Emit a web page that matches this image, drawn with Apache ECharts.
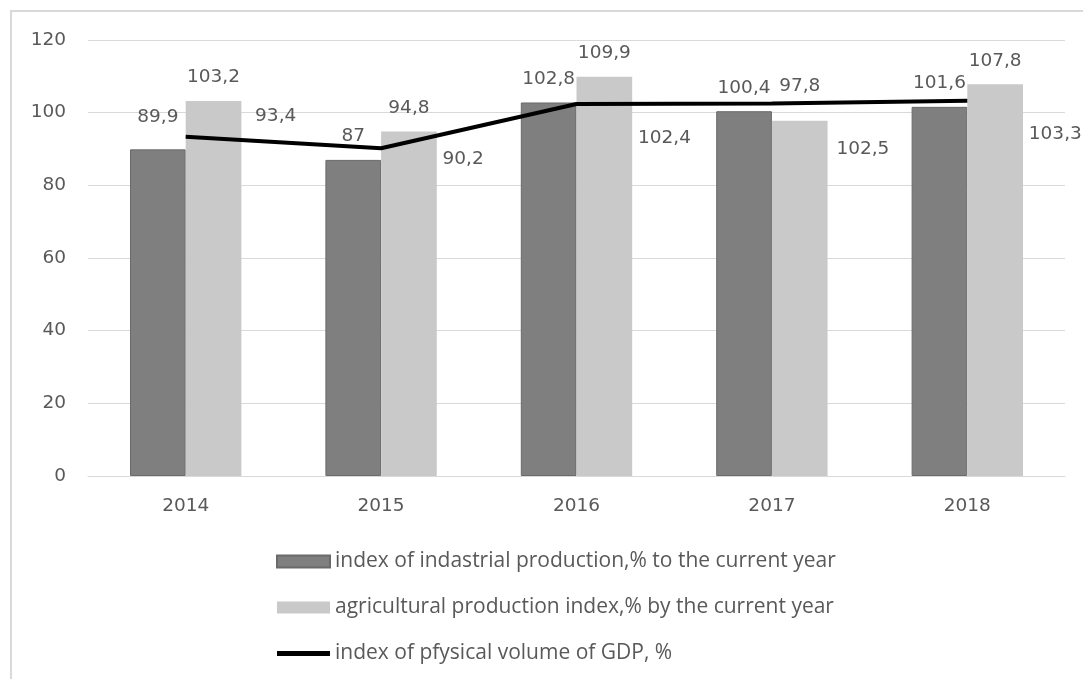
<!DOCTYPE html>
<html>
<head>
<meta charset="utf-8">
<script src="https://cdn.jsdelivr.net/npm/echarts@6/dist/echarts.min.js"></script>
<style>
  html, body { margin: 0; padding: 0; background: #fff; }
  #frame { position: absolute; left: 10px; top: 10px; width: 1100px; height: 700px;
           border-top: 2px solid #d9d9d9; border-left: 2px solid #d9d9d9; }
  #chart { position: absolute; left: 0; top: 0; width: 1083px; height: 679px; }
</style>
</head>
<body>
<div id="frame"></div>
<div id="chart"></div>
<script>
const years = ['2014', '2015', '2016', '2017', '2018'];
const industrial = [89.9, 87, 102.8, 100.4, 101.6];
const agricultural = [103.2, 94.8, 109.9, 97.8, 107.8];
const gdp = [93.4, 90.2, 102.4, 102.5, 103.3];
const yTicks = { min: 0, max: 120, interval: 20 };
const names = [
  'index of indastrial production,% to the current year',
  'agricultural production index,% by the current year',
  'index of pfysical volume of GDP, %'
];

// label layout tweaks (pixel offsets, not data)
const industrialLabelShift = [[0, -9], [0, 0], [0, 0], [0, 0], [0, 0]];
const agriculturalLabelShift = [[0, 0], [0, 0], [0, 0], [0, -11], [0, 0]];
const gdpLabelShift = [[90, -20], [82, 11], [88, 34], [91, 46], [88, 34]];

const fmt = p => String(p.value).replace('.', ',');
const textColor = '#595959';
const numFont = '"DejaVu Sans", sans-serif';
const legendFont = '"Open Sans", "Noto Sans", sans-serif';
const numSize = 18.5;

const chart = echarts.init(document.getElementById('chart'), null, { renderer: 'canvas' });
chart.setOption({
  animation: false,
  textStyle: { fontFamily: numFont },
  grid: { left: 88, right: 18, top: 40, bottom: 203 },
  legend: {
    orient: 'vertical',
    left: 271,
    top: 546,
    padding: 5,
    itemWidth: 53,
    itemHeight: 12,
    itemGap: 25,
    textStyle: { fontSize: 21, color: textColor, fontFamily: legendFont },
    data: [
      { name: names[0], icon: 'rect' },
      { name: names[1], icon: 'rect' },
      { name: names[2], icon: 'path://M0,0 L53,0 L53,5 L0,5 Z' }
    ]
  },
  xAxis: {
    type: 'category',
    data: years,
    axisLine: { show: true, lineStyle: { color: '#d9d9d9', width: 1 } },
    axisTick: { show: false },
    axisLabel: { color: textColor, fontSize: numSize, margin: 21, fontFamily: numFont }
  },
  yAxis: {
    type: 'value',
    min: yTicks.min,
    max: yTicks.max,
    interval: yTicks.interval,
    axisLine: { show: false },
    axisTick: { show: false },
    splitLine: { lineStyle: { color: '#d9d9d9', width: 1 } },
    axisLabel: { color: textColor, fontSize: numSize, margin: 22, fontFamily: numFont }
  },
  series: [
    {
      name: names[0],
      type: 'bar',
      barGap: '0%',
      barCategoryGap: '43%',
      itemStyle: { color: '#7f7f7f', borderColor: '#6a6a6a', borderWidth: 1 },
      label: { show: true, position: 'top', distance: 14, fontSize: numSize, color: textColor, fontFamily: numFont, formatter: fmt },
      data: industrial.map((v, i) => ({ value: v, label: { offset: industrialLabelShift[i] } }))
    },
    {
      name: names[1],
      type: 'bar',
      itemStyle: { color: '#c9c9c9' },
      label: { show: true, position: 'top', distance: 14, fontSize: numSize, color: textColor, fontFamily: numFont, formatter: fmt },
      data: agricultural.map((v, i) => ({ value: v, label: { offset: agriculturalLabelShift[i] } }))
    },
    {
      name: names[2],
      type: 'line',
      symbol: 'circle',
      symbolSize: 0.1,
      showSymbol: true,
      itemStyle: { color: '#000' },
      lineStyle: { color: '#000', width: 4 },
      label: { show: true, position: 'inside', fontSize: numSize, color: textColor, fontFamily: numFont, formatter: fmt },
      data: gdp.map((v, i) => ({ value: v, label: { offset: gdpLabelShift[i] } })),
      z: 5
    }
  ]
});
</script>
</body>
</html>
